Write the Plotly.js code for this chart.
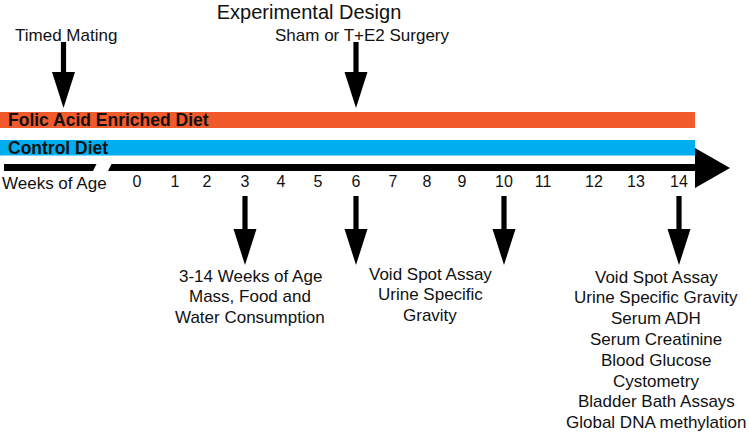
<!DOCTYPE html>
<html>
<head>
<meta charset="utf-8">
<script src="https://cdn.plot.ly/plotly-3.0.1.min.js"></script>
<style>html,body{margin:0;padding:0;background:#fff}#chart{width:750px;height:435px}</style>
</head>
<body>
<div id="chart"></div>
<script>
// ---- content ----
const chartTitle = 'Experimental Design';
const weekLabels = ['0','1','2','3','4','5','6','7','8','9','10','11','12','13','14'];
const axisLabel = 'Weeks of Age';
const dietLabels = ['Folic Acid Enriched Diet', 'Control Diet'];
const topEvents = ['Timed Mating', 'Sham or T+E2 Surgery'];
const topEventWeek = [null, 6];              // null = before week 0 (prenatal)
const bottomEventWeeks = [3, 6, 10, 14];
const bottomTextGroups = [
  ['3-14 Weeks of Age', 'Mass, Food and', 'Water Consumption'],
  ['Void Spot Assay', 'Urine Specific', 'Gravity'],
  ['Void Spot Assay', 'Urine Specific Gravity', 'Serum ADH', 'Serum Creatinine',
   'Blood Glucose', 'Cystometry', 'Bladder Bath Assays', 'Global DNA methylation']
];

// ---- layout (positions in a 750x435 drawing space) ----
const weekX = [137,175,207,245,281,318,356,393,427,462,504,543,594,636,679];
const timedMatingX = 63.5;
const groupTextX = [250, 430, 656];
const groupTextY = [276, 274, 277];
const lineStep = 20.8;
const dietColors = ['#F15A2B', '#00AEEF'];
const dietY = [[112,128],[140,155.5]];
const barEnd = 695;
const textFont = 'Liberation Sans, Arial, Helvetica, sans-serif';

function downArrow(cx, y0, y1, y2) {
  const s = 2.6, h = 11.5;
  return {
    type: 'path', xref: 'x', yref: 'y', line: {width: 0}, fillcolor: '#000',
    path: `M${cx-s},${y0} L${cx+s},${y0} L${cx+s},${y1} L${cx+h},${y1} L${cx},${y2} L${cx-h},${y1} L${cx-s},${y1} Z`
  };
}

const shapes = [];
// diet bars
dietLabels.forEach((d, i) => {
  shapes.push({type:'rect', xref:'x', yref:'y', x0:0, x1:barEnd, y0:dietY[i][0], y1:dietY[i][1],
    fillcolor: dietColors[i], line:{width:0}, layer:'below'});
});
// timeline with break
shapes.push({type:'path', xref:'x', yref:'y', line:{width:0}, fillcolor:'#000',
  path:'M4,164 L96.5,164 L93,171 L4,171 Z'});
shapes.push({type:'path', xref:'x', yref:'y', line:{width:0}, fillcolor:'#000',
  path:`M111.5,164 L${barEnd},164 L${barEnd},148 L730,168 L${barEnd},188 L${barEnd},171 L108,171 Z`});
// top arrows
topEvents.forEach((t, i) => {
  const cx = topEventWeek[i] === null ? timedMatingX : weekX[topEventWeek[i]];
  shapes.push(downArrow(cx, 42, 72, 108));
});
// bottom arrows
bottomEventWeeks.forEach(w => shapes.push(downArrow(weekX[w], 196, 229, 265)));

const annotations = [];
const baseFont = {family: textFont, size: 17, color: '#111'};
topEvents.forEach((t, i) => {
  const cx = topEventWeek[i] === null ? timedMatingX + 2 : weekX[topEventWeek[i]] + 6;
  annotations.push({text: t, x: cx, y: 35, xref:'x', yref:'y', showarrow:false,
    xanchor:'center', yanchor:'middle', font: baseFont});
});
dietLabels.forEach((d, i) => {
  annotations.push({text: '<b>' + d + '</b>', x: 6, y: (dietY[i][0] + dietY[i][1]) / 2,
    xref:'x', yref:'y', showarrow:false, xanchor:'left', yanchor:'middle',
    font: {family: textFont, size: 17.5, color: '#111'}});
});
annotations.push({text: axisLabel, x: 0, y: 183, xref:'x', yref:'y', showarrow:false,
  xanchor:'left', yanchor:'middle', font: {family: textFont, size: 17, color: '#111'}});
bottomTextGroups.forEach((lines, g) => {
  lines.forEach((ln, k) => {
    annotations.push({text: ln, x: groupTextX[g], y: groupTextY[g] + k * lineStep,
      xref:'x', yref:'y', showarrow:false, xanchor:'center', yanchor:'middle', font: baseFont});
  });
});

const data = [{
  type: 'scatter', mode: 'text', x: weekX, y: weekLabels.map(() => 183),
  text: weekLabels, textposition: 'middle center',
  textfont: {family: textFont, size: 16, color: '#111'}, hoverinfo: 'skip', showlegend: false
}];

const layout = {
  width: 750, height: 435,
  margin: {l:0, r:0, t:0, b:0},
  paper_bgcolor: '#fff', plot_bgcolor: '#fff',
  title: {text: chartTitle, font: {family: textFont, size: 20, color: '#111'},
          x: 309/750, xanchor: 'center', xref: 'paper', y: 1 - 12/435, yanchor: 'middle', yref: 'container'},
  xaxis: {range: [0, 750], visible: false, fixedrange: true},
  yaxis: {range: [435, 0], visible: false, fixedrange: true},
  shapes: shapes,
  annotations: annotations,
  showlegend: false
};

Plotly.newPlot('chart', data, layout, {staticPlot: true, displayModeBar: false});
</script>
</body>
</html>
